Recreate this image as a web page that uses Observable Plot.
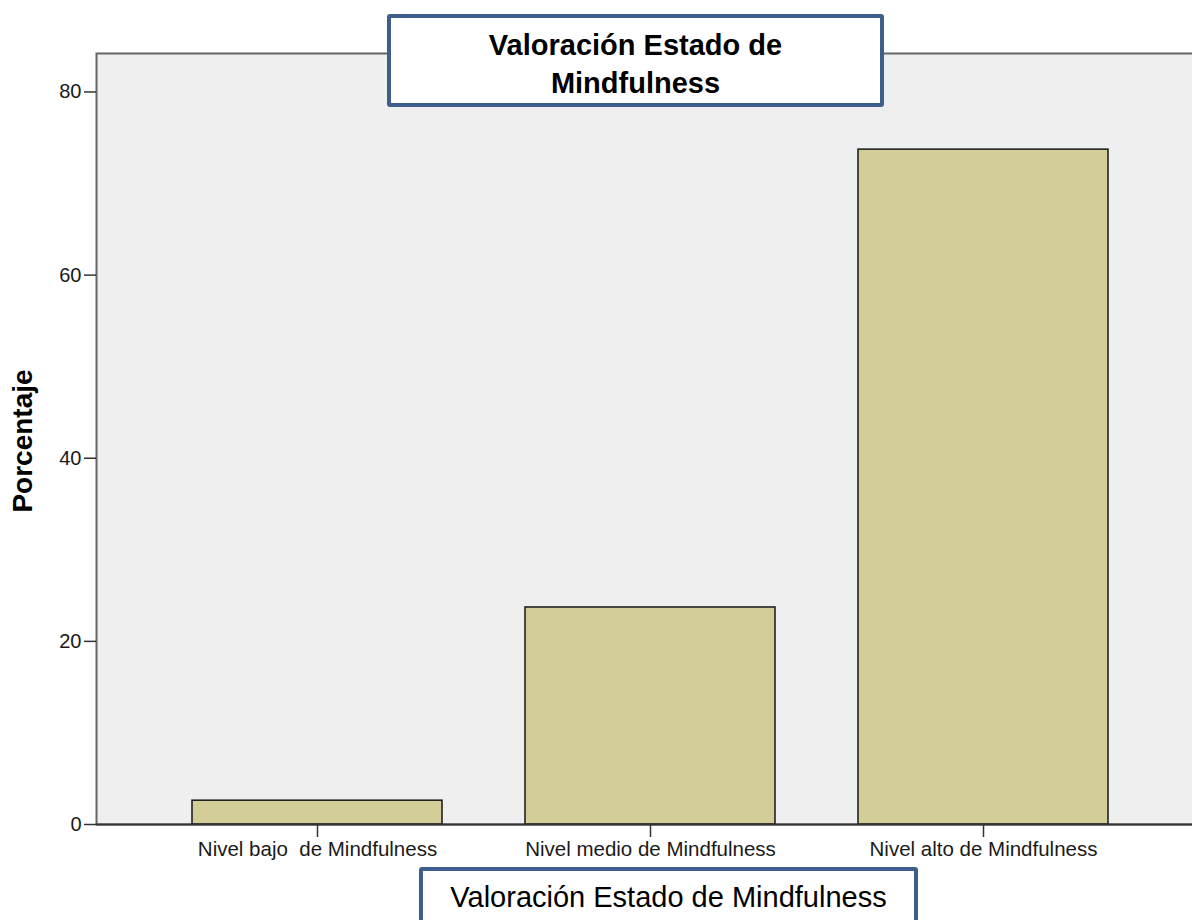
<!DOCTYPE html>
<html>
<head>
<meta charset="utf-8">
<script src="https://cdn.jsdelivr.net/npm/d3@7"></script>
<script src="https://cdn.jsdelivr.net/npm/@observablehq/plot@0.6"></script>
<style>
  html, body { margin: 0; padding: 0; background: #fff; }
  #wrap { position: relative; width: 1192px; height: 920px; overflow: hidden; font-family: "Liberation Sans", Arial, sans-serif; }
  .box { position: absolute; box-sizing: border-box; background: #fff; border: 4px solid #3e5f8b; border-radius: 3px; text-align: center; color: #000; font-family: "Liberation Sans", Arial, sans-serif; font-size: 29px; line-height: 38px; }
  #title { left: 387px; top: 14px; width: 497px; height: 93px; font-weight: bold; padding-top: 8px; }
  #xtitle { left: 419px; top: 867px; width: 499px; height: 70px; padding-top: 7px; }
</style>
</head>
<body>
<div id="wrap"></div>
<script>
const categories = ["Nivel bajo  de Mindfulness", "Nivel medio de Mindfulness", "Nivel alto de Mindfulness"];
const values = [2.6, 23.7, 73.7];
const yTicks = [0, 20, 40, 60, 80];
const titleText = ["Valoración Estado de", "Mindfulness"];
const xTitle = "Valoración Estado de Mindfulness";
const yTitle = "Porcentaje";

const data = categories.map((c, i) => ({category: c, value: values[i]}));

const chart = Plot.plot({
  width: 1204,
  height: 920,
  marginLeft: 96,
  marginRight: 0,
  marginTop: 53,
  marginBottom: 96,
  style: {fontFamily: '"Liberation Sans", Arial, sans-serif', fontSize: "20px", background: "transparent", maxWidth: "none", color: "#1a1a1a"},
  x: {domain: categories, paddingInner: 0.25, paddingOuter: 0.2886, label: null},
  y: {domain: [0, 84.2], label: null},
  marks: [
    Plot.frame({fill: "#efefef", stroke: "#666", strokeWidth: 2}),
    Plot.barY(data, {x: "category", y: "value", fill: "#d3ce98", stroke: "#222", strokeWidth: 1.6}),
    Plot.ruleY([0], {stroke: "#333", strokeWidth: 2}),
    Plot.axisX({tickSize: 13, tickPadding: 4, fontSize: 20.5, stroke: "#333", strokeWidth: 1.5, label: null}),
    Plot.axisY(yTicks, {tickSize: 12, tickPadding: 3, fontSize: 20, stroke: "#333", strokeWidth: 1.5, label: null}),
    Plot.text([yTitle], {text: d => d, frameAnchor: "left", textAnchor: "middle", rotate: -90, dx: -73, dy: 2, fontSize: 28, fontWeight: "bold", fill: "#000"})
  ]
});

const wrap = document.getElementById("wrap");
wrap.appendChild(chart);

const t = document.createElement("div");
t.id = "title"; t.className = "box";
t.innerHTML = titleText.join("<br>");
wrap.appendChild(t);

const xt = document.createElement("div");
xt.id = "xtitle"; xt.className = "box";
xt.textContent = xTitle;
wrap.appendChild(xt);
</script>
</body>
</html>
